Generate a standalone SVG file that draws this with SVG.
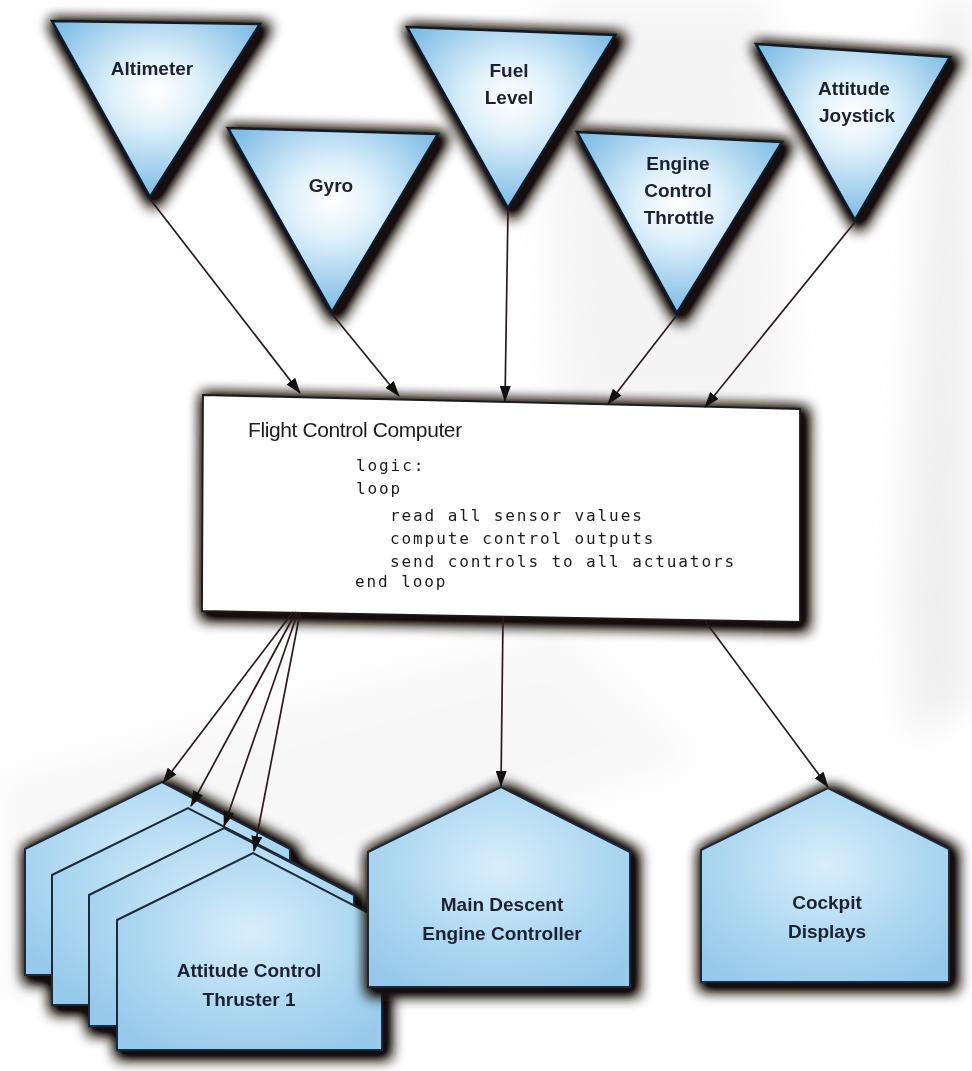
<svg xmlns="http://www.w3.org/2000/svg" width="972" height="1071" viewBox="0 0 972 1071">
<defs>
<style>
.tri{stroke:#0f1a28;stroke-width:2.5;stroke-linejoin:miter;fill:url(#tg)}
.pent{stroke:#1a2a3a;stroke-width:2;fill:url(#pg)}
.lbl{font-family:"Liberation Sans",Arial,sans-serif;font-weight:bold;font-size:19px;fill:#1b2030;text-anchor:middle}
.title{font-family:"Liberation Sans",Arial,sans-serif;font-size:21px;fill:#1b1b1b;letter-spacing:-0.4px}
.code{font-family:"DejaVu Sans Mono","Liberation Mono",monospace;font-size:16px;fill:#1b1b1b;letter-spacing:1.9px}
.con{stroke:#2a1c1c;stroke-width:1.7;fill:none;marker-end:url(#ah)}
</style>
<radialGradient id="tg" cx="0.5" cy="0.4" r="0.6">
<stop offset="0" stop-color="#ffffff"/>
<stop offset="0.35" stop-color="#def0fa"/>
<stop offset="1" stop-color="#7cbbe5"/>
</radialGradient>
<radialGradient id="pg" cx="0.5" cy="0.4" r="0.7">
<stop offset="0" stop-color="#d8eefa"/>
<stop offset="0.6" stop-color="#acd7f1"/>
<stop offset="1" stop-color="#96c9ea"/>
</radialGradient>
<filter id="sh" x="-20%" y="-20%" width="150%" height="150%">
<feMorphology in="SourceAlpha" operator="dilate" radius="4" result="d1"/>
<feOffset in="d1" dx="4" dy="4" result="o1"/>
<feGaussianBlur in="o1" stdDeviation="7" result="b1"/>
<feComponentTransfer in="b1" result="b1a"><feFuncA type="linear" slope="1.4"/></feComponentTransfer>
<feFlood flood-color="#17110b" flood-opacity="1"/>
<feComposite in2="b1a" operator="in" result="s1"/>
<feGaussianBlur in="SourceAlpha" stdDeviation="7" result="b2"/>
<feFlood flood-color="#3a3028" flood-opacity="0.6"/>
<feComposite in2="b2" operator="in" result="s2"/>
<feMerge><feMergeNode in="s2"/><feMergeNode in="s1"/><feMergeNode in="SourceGraphic"/></feMerge>
</filter>
<filter id="bl" x="-20%" y="-20%" width="140%" height="140%">
<feGaussianBlur stdDeviation="18"/>
</filter>
<marker id="ah" viewBox="0 0 16 11" refX="15" refY="5.5" markerWidth="16" markerHeight="11" markerUnits="userSpaceOnUse" orient="auto">
<path d="M0,0 L16,5.5 L0,11 z" fill="#111"/>
</marker>
</defs>
<rect width="972" height="1071" fill="#ffffff"/>
<g id="background" filter="url(#bl)" opacity="0.55">
<polygon points="540,0 770,0 790,420 560,420" fill="#ececec"/>
<polygon points="935,0 972,0 972,700 910,740 900,600" fill="#e2e2e2"/>
<polygon points="0,780 560,630 700,760 0,1000" fill="#f2f2f2"/>
</g>
<g id="altimeter" filter="url(#sh)">
<polygon class="tri" points="52,21 260,24 150,197"/>
<text class="lbl" x="152" y="75">Altimeter</text>
</g>
<g id="gyro" filter="url(#sh)">
<polygon class="tri" points="228,128 438,134 332,312"/>
<text class="lbl" x="331" y="192">Gyro</text>
</g>
<g id="fuel-level" filter="url(#sh)">
<polygon class="tri" points="407,27 615,35 508,208"/>
<text class="lbl" x="509" y="77">Fuel</text>
<text class="lbl" x="509" y="104">Level</text>
</g>
<g id="engine-control-throttle" filter="url(#sh)">
<polygon class="tri" points="577,132 782,142 677,313"/>
<text class="lbl" x="678" y="170">Engine</text>
<text class="lbl" x="678" y="197">Control</text>
<text class="lbl" x="679" y="224">Throttle</text>
</g>
<g id="attitude-joystick" filter="url(#sh)">
<polygon class="tri" points="756,44 950,57 855,220"/>
<text class="lbl" x="854" y="95">Attitude</text>
<text class="lbl" x="857" y="122">Joystick</text>
</g>
<g id="flight-control-computer" filter="url(#sh)">
<polygon points="203,395 800,409 800,622 202,611" fill="#ffffff" stroke="#1a1a1a" stroke-width="1.8"/>
<text class="title" x="248" y="437">Flight Control Computer</text>
<text class="code" x="356" y="471">logic:</text>
<text class="code" x="356" y="494">loop</text>
<text class="code" x="390" y="521">read all sensor values</text>
<text class="code" x="390" y="544">compute control outputs</text>
<text class="code" x="390" y="567">send controls to all actuators</text>
<text class="code" x="355" y="587">end loop</text>
</g>
<g id="attitude-control-thrusters" filter="url(#sh)">
<polygon class="pent" points="25,849 162,782 290,849 290,975 25,975"/>
<polygon class="pent" points="52,875 188,808 317,875 317,1005 52,1005"/>
<polygon class="pent" points="89,895 224,828 354,895 354,1026 89,1026"/>
<polygon class="pent" points="117,920 253,853 382,920 382,1050 117,1050"/>
<text class="lbl" x="249" y="977">Attitude Control</text>
<text class="lbl" x="249" y="1006">Thruster 1</text>
</g>
<g id="main-descent-engine-controller" filter="url(#sh)">
<polygon class="pent" points="368,852 501,787 630,852 630,987 368,987"/>
<text class="lbl" x="502" y="911">Main Descent</text>
<text class="lbl" x="502" y="940">Engine Controller</text>
</g>
<g id="cockpit-displays" filter="url(#sh)">
<polygon class="pent" points="701,850 828,788 949,849 949,982 701,982"/>
<text class="lbl" x="827" y="909">Cockpit</text>
<text class="lbl" x="827" y="938">Displays</text>
</g>
<g id="connectors">
<line class="con" x1="150" y1="199" x2="300" y2="393"/>
<line class="con" x1="332" y1="314" x2="399" y2="396"/>
<line class="con" x1="508" y1="210" x2="505" y2="401"/>
<line class="con" x1="677" y1="315" x2="608" y2="404"/>
<line class="con" x1="855" y1="222" x2="705" y2="407"/>
<line class="con" x1="293" y1="612" x2="163" y2="783"/>
<line class="con" x1="296" y1="612" x2="191" y2="806"/>
<line class="con" x1="298" y1="612" x2="224" y2="826"/>
<line class="con" x1="300" y1="613" x2="254" y2="851"/>
<line class="con" x1="503" y1="617" x2="501" y2="786"/>
<line class="con" x1="705" y1="621" x2="828" y2="787"/>
</g>
</svg>
